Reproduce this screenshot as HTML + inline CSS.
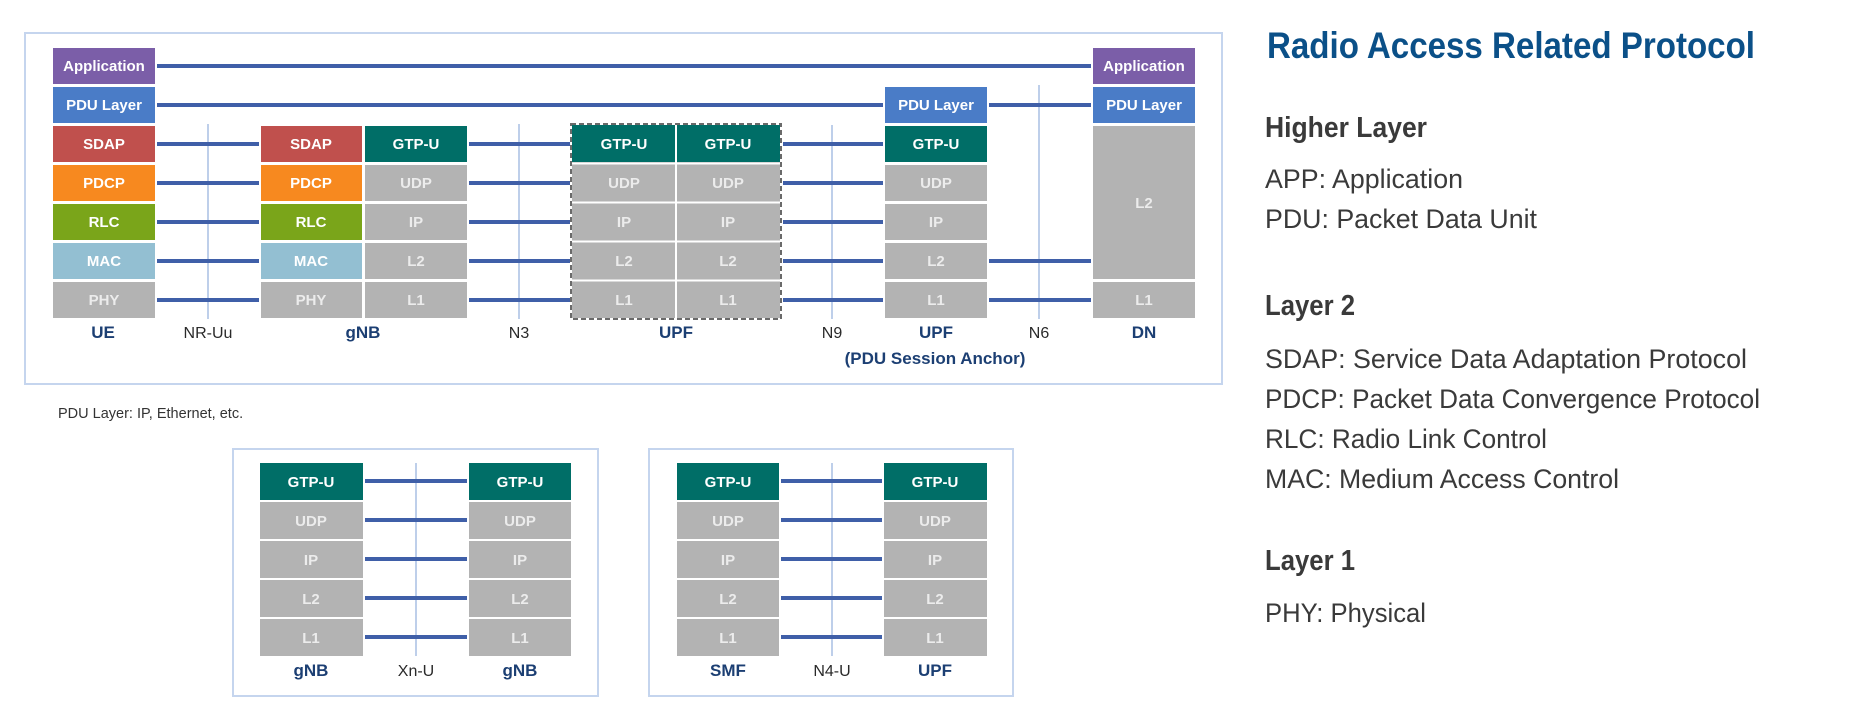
<!DOCTYPE html>
<html><head><meta charset="utf-8"><style>
html,body{margin:0;padding:0;background:#fff;}
svg{display:block;}
.b{font-family:"Liberation Sans",sans-serif;font-weight:bold;font-size:15px;fill:#fff;text-anchor:middle;}
.g{fill:#ececec;}
.lbl{font-family:"Liberation Sans",sans-serif;font-size:16px;fill:#2a2a2a;text-anchor:middle;}
.lb{font-family:"Liberation Sans",sans-serif;font-size:17px;font-weight:bold;fill:#1c3f73;text-anchor:middle;}
.t{font-family:"Liberation Sans",sans-serif;fill:#3a3a3a;}
</style></head><body>
<svg width="1852" height="719" viewBox="0 0 1852 719" xmlns="http://www.w3.org/2000/svg">
<!-- outer boxes -->
<rect x="25" y="33" width="1197" height="351" fill="none" stroke="#c5d5ee" stroke-width="2"/>
<rect x="233" y="449" width="365" height="247" fill="none" stroke="#c5d5ee" stroke-width="2"/>
<rect x="649" y="449" width="364" height="247" fill="none" stroke="#c5d5ee" stroke-width="2"/>

<!-- vertical interface lines -->
<g stroke="#a9bfe3" stroke-width="1.5">
<line x1="208" y1="124" x2="208" y2="319"/>
<line x1="519" y1="124" x2="519" y2="319"/>
<line x1="832" y1="125" x2="832" y2="319"/>
<line x1="1039" y1="85" x2="1039" y2="319"/>
<line x1="416" y1="463" x2="416" y2="656"/>
<line x1="832" y1="463" x2="832" y2="656"/>
</g>

<!-- horizontal connectors -->
<g stroke="#3f5fa8" stroke-width="4">
<line x1="157" y1="66" x2="1091" y2="66"/>
<line x1="157" y1="105" x2="883" y2="105"/>
<line x1="989" y1="105" x2="1091" y2="105"/>
<line x1="157" y1="144" x2="259" y2="144"/><line x1="157" y1="183" x2="259" y2="183"/><line x1="157" y1="222" x2="259" y2="222"/><line x1="157" y1="261" x2="259" y2="261"/><line x1="157" y1="300" x2="259" y2="300"/>
<line x1="469" y1="144" x2="570" y2="144"/><line x1="469" y1="183" x2="570" y2="183"/><line x1="469" y1="222" x2="570" y2="222"/><line x1="469" y1="261" x2="570" y2="261"/><line x1="469" y1="300" x2="570" y2="300"/>
<line x1="783" y1="144" x2="883" y2="144"/><line x1="783" y1="183" x2="883" y2="183"/><line x1="783" y1="222" x2="883" y2="222"/><line x1="783" y1="261" x2="883" y2="261"/><line x1="783" y1="300" x2="883" y2="300"/>
<line x1="989" y1="261" x2="1091" y2="261"/><line x1="989" y1="300" x2="1091" y2="300"/>
<line x1="365" y1="481" x2="467" y2="481"/><line x1="365" y1="520" x2="467" y2="520"/><line x1="365" y1="559" x2="467" y2="559"/><line x1="365" y1="598" x2="467" y2="598"/><line x1="365" y1="637" x2="467" y2="637"/>
<line x1="781" y1="481" x2="882" y2="481"/><line x1="781" y1="520" x2="882" y2="520"/><line x1="781" y1="559" x2="882" y2="559"/><line x1="781" y1="598" x2="882" y2="598"/><line x1="781" y1="637" x2="882" y2="637"/>
</g>

<!-- UE column -->
<rect x="53" y="48" width="102" height="36" fill="#7b5ea8"/><text class="b" x="104" y="71">Application</text>
<rect x="53" y="87" width="102" height="36" fill="#4a7cc7"/><text class="b" x="104" y="110">PDU Layer</text>
<rect x="53" y="126" width="102" height="36" fill="#c0504d"/><text class="b" x="104" y="149">SDAP</text>
<rect x="53" y="165" width="102" height="36" fill="#f7891f"/><text class="b" x="104" y="188">PDCP</text>
<rect x="53" y="204" width="102" height="36" fill="#7aa51a"/><text class="b" x="104" y="227">RLC</text>
<rect x="53" y="243" width="102" height="36" fill="#93bfd2"/><text class="b" x="104" y="266">MAC</text>
<rect x="53" y="282" width="102" height="36" fill="#b3b3b3"/><text class="b g" x="104" y="305">PHY</text>

<!-- gNB -->
<rect x="261" y="126" width="101" height="36" fill="#c0504d"/><text class="b" x="311" y="149">SDAP</text>
<rect x="261" y="165" width="101" height="36" fill="#f7891f"/><text class="b" x="311" y="188">PDCP</text>
<rect x="261" y="204" width="101" height="36" fill="#7aa51a"/><text class="b" x="311" y="227">RLC</text>
<rect x="261" y="243" width="101" height="36" fill="#93bfd2"/><text class="b" x="311" y="266">MAC</text>
<rect x="261" y="282" width="101" height="36" fill="#b3b3b3"/><text class="b g" x="311" y="305">PHY</text>
<rect x="365" y="126" width="102" height="36" fill="#006e67"/><text class="b" x="416" y="149">GTP-U</text>
<rect x="365" y="165" width="102" height="36" fill="#b3b3b3"/><text class="b g" x="416" y="188">UDP</text>
<rect x="365" y="204" width="102" height="36" fill="#b3b3b3"/><text class="b g" x="416" y="227">IP</text>
<rect x="365" y="243" width="102" height="36" fill="#b3b3b3"/><text class="b g" x="416" y="266">L2</text>
<rect x="365" y="282" width="102" height="36" fill="#b3b3b3"/><text class="b g" x="416" y="305">L1</text>

<!-- UPF (dashed) -->
<rect x="572" y="125" width="208" height="193" fill="#b3b3b3"/>
<rect x="572" y="125" width="103" height="37" fill="#006e67"/><rect x="677" y="125" width="103" height="37" fill="#006e67"/>
<g stroke="#fff" stroke-width="2"><line x1="676" y1="125" x2="676" y2="318"/><line x1="572" y1="163.5" x2="780" y2="163.5"/><line x1="572" y1="202.5" x2="780" y2="202.5"/><line x1="572" y1="241.5" x2="780" y2="241.5"/><line x1="572" y1="280.5" x2="780" y2="280.5"/></g>
<rect x="571" y="124" width="210" height="195" fill="none" stroke="#6a6a6a" stroke-width="2" stroke-dasharray="5,3"/>
<text class="b" x="624" y="149">GTP-U</text><text class="b" x="728" y="149">GTP-U</text>
<text class="b g" x="624" y="188">UDP</text><text class="b g" x="728" y="188">UDP</text>
<text class="b g" x="624" y="227">IP</text><text class="b g" x="728" y="227">IP</text>
<text class="b g" x="624" y="266">L2</text><text class="b g" x="728" y="266">L2</text>
<text class="b g" x="624" y="305">L1</text><text class="b g" x="728" y="305">L1</text>

<!-- UPF PSA -->
<rect x="885" y="87" width="102" height="36" fill="#4a7cc7"/><text class="b" x="936" y="110">PDU Layer</text>
<rect x="885" y="126" width="102" height="36" fill="#006e67"/><text class="b" x="936" y="149">GTP-U</text>
<rect x="885" y="165" width="102" height="36" fill="#b3b3b3"/><text class="b g" x="936" y="188">UDP</text>
<rect x="885" y="204" width="102" height="36" fill="#b3b3b3"/><text class="b g" x="936" y="227">IP</text>
<rect x="885" y="243" width="102" height="36" fill="#b3b3b3"/><text class="b g" x="936" y="266">L2</text>
<rect x="885" y="282" width="102" height="36" fill="#b3b3b3"/><text class="b g" x="936" y="305">L1</text>

<!-- DN -->
<rect x="1093" y="48" width="102" height="36" fill="#7b5ea8"/><text class="b" x="1144" y="71">Application</text>
<rect x="1093" y="87" width="102" height="36" fill="#4a7cc7"/><text class="b" x="1144" y="110">PDU Layer</text>
<rect x="1093" y="126" width="102" height="153" fill="#b3b3b3"/><text class="b g" x="1144" y="208">L2</text>
<rect x="1093" y="282" width="102" height="36" fill="#b3b3b3"/><text class="b g" x="1144" y="305">L1</text>

<!-- top labels -->
<text class="lb" x="103" y="338">UE</text>
<text class="lbl" x="208" y="338">NR-Uu</text>
<text class="lb" x="363" y="338">gNB</text>
<text class="lbl" x="519" y="338">N3</text>
<text class="lb" x="676" y="338">UPF</text>
<text class="lbl" x="832" y="338">N9</text>
<text class="lb" x="936" y="338">UPF</text>
<text class="lbl" x="1039" y="338">N6</text>
<text class="lb" x="1144" y="338">DN</text>
<text class="lb" x="935" y="364">(PDU Session Anchor)</text>

<text x="58" y="418" font-family="Liberation Sans, sans-serif" font-size="14.5" fill="#333">PDU Layer: IP, Ethernet, etc.</text>

<!-- bottom box 1 -->
<g>
<rect x="260" y="463" width="103" height="37" fill="#006e67"/><text class="b" x="311" y="487">GTP-U</text>
<rect x="260" y="502" width="103" height="37" fill="#b3b3b3"/><text class="b g" x="311" y="526">UDP</text>
<rect x="260" y="541" width="103" height="37" fill="#b3b3b3"/><text class="b g" x="311" y="565">IP</text>
<rect x="260" y="580" width="103" height="37" fill="#b3b3b3"/><text class="b g" x="311" y="604">L2</text>
<rect x="260" y="619" width="103" height="37" fill="#b3b3b3"/><text class="b g" x="311" y="643">L1</text>
<rect x="469" y="463" width="102" height="37" fill="#006e67"/><text class="b" x="520" y="487">GTP-U</text>
<rect x="469" y="502" width="102" height="37" fill="#b3b3b3"/><text class="b g" x="520" y="526">UDP</text>
<rect x="469" y="541" width="102" height="37" fill="#b3b3b3"/><text class="b g" x="520" y="565">IP</text>
<rect x="469" y="580" width="102" height="37" fill="#b3b3b3"/><text class="b g" x="520" y="604">L2</text>
<rect x="469" y="619" width="102" height="37" fill="#b3b3b3"/><text class="b g" x="520" y="643">L1</text>
<text class="lb" x="311" y="676">gNB</text><text class="lbl" x="416" y="676">Xn-U</text><text class="lb" x="520" y="676">gNB</text>
</g>
<!-- bottom box 2 -->
<g>
<rect x="677" y="463" width="102" height="37" fill="#006e67"/><text class="b" x="728" y="487">GTP-U</text>
<rect x="677" y="502" width="102" height="37" fill="#b3b3b3"/><text class="b g" x="728" y="526">UDP</text>
<rect x="677" y="541" width="102" height="37" fill="#b3b3b3"/><text class="b g" x="728" y="565">IP</text>
<rect x="677" y="580" width="102" height="37" fill="#b3b3b3"/><text class="b g" x="728" y="604">L2</text>
<rect x="677" y="619" width="102" height="37" fill="#b3b3b3"/><text class="b g" x="728" y="643">L1</text>
<rect x="884" y="463" width="103" height="37" fill="#006e67"/><text class="b" x="935" y="487">GTP-U</text>
<rect x="884" y="502" width="103" height="37" fill="#b3b3b3"/><text class="b g" x="935" y="526">UDP</text>
<rect x="884" y="541" width="103" height="37" fill="#b3b3b3"/><text class="b g" x="935" y="565">IP</text>
<rect x="884" y="580" width="103" height="37" fill="#b3b3b3"/><text class="b g" x="935" y="604">L2</text>
<rect x="884" y="619" width="103" height="37" fill="#b3b3b3"/><text class="b g" x="935" y="643">L1</text>
<text class="lb" x="728" y="676">SMF</text><text class="lbl" x="832" y="676">N4-U</text><text class="lb" x="935" y="676">UPF</text>
</g>

<!-- right text -->
<text x="1267" y="58" font-family="Liberation Sans, sans-serif" font-weight="bold" font-size="37" fill="#0b5088" textLength="488" lengthAdjust="spacingAndGlyphs">Radio Access Related Protocol</text>
<text class="t" x="1265" y="137" font-weight="bold" font-size="29" textLength="162" lengthAdjust="spacingAndGlyphs">Higher Layer</text>
<text class="t" x="1265" y="188" font-size="27" textLength="198" lengthAdjust="spacingAndGlyphs">APP: Application</text>
<text class="t" x="1265" y="228" font-size="27" textLength="272" lengthAdjust="spacingAndGlyphs">PDU: Packet Data Unit</text>
<text class="t" x="1265" y="315" font-weight="bold" font-size="29" textLength="90" lengthAdjust="spacingAndGlyphs">Layer 2</text>
<text class="t" x="1265" y="368" font-size="27" textLength="482" lengthAdjust="spacingAndGlyphs">SDAP: Service Data Adaptation Protocol</text>
<text class="t" x="1265" y="408" font-size="27" textLength="495" lengthAdjust="spacingAndGlyphs">PDCP: Packet Data Convergence Protocol</text>
<text class="t" x="1265" y="448" font-size="27" textLength="282" lengthAdjust="spacingAndGlyphs">RLC: Radio Link Control</text>
<text class="t" x="1265" y="488" font-size="27" textLength="354" lengthAdjust="spacingAndGlyphs">MAC: Medium Access Control</text>
<text class="t" x="1265" y="570" font-weight="bold" font-size="29" textLength="90" lengthAdjust="spacingAndGlyphs">Layer 1</text>
<text class="t" x="1265" y="622" font-size="27" textLength="161" lengthAdjust="spacingAndGlyphs">PHY: Physical</text>
</svg>
</body></html>
